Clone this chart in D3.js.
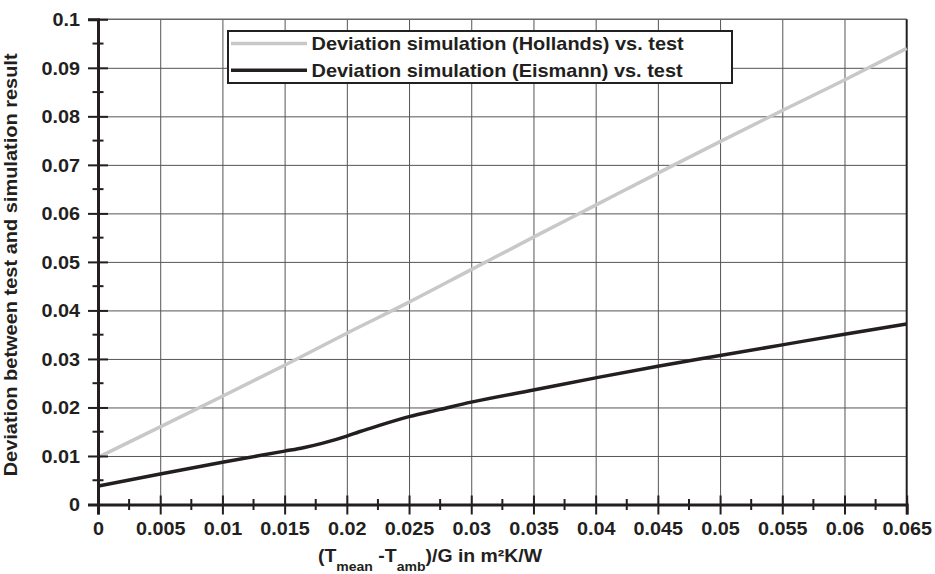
<!DOCTYPE html>
<html>
<head>
<meta charset="utf-8">
<script src="https://cdn.jsdelivr.net/npm/d3@7"></script>
<style>
  body { margin: 0; background: #fff; }
  text { font-family: "Liberation Sans", Arial, sans-serif; font-weight: bold; fill: #231f20; }
</style>
</head>
<body>
<svg id="chart" width="935" height="574"></svg>
<script>
// x positions and values
var hollandsX = [0, 0.005, 0.01, 0.015, 0.02, 0.025, 0.03, 0.035, 0.04, 0.045, 0.05, 0.055, 0.06, 0.065];
var hollandsY = [0.0097, 0.016, 0.0223, 0.0287, 0.0353, 0.0417, 0.0484, 0.0551, 0.0617, 0.0683, 0.0748, 0.0812, 0.0875, 0.094];

var eismannX = [0, 0.005, 0.01, 0.015, 0.0165, 0.018, 0.02, 0.021, 0.022, 0.025, 0.0275, 0.03, 0.035, 0.04, 0.045, 0.05, 0.055, 0.06, 0.065];
var eismannY = [0.0038, 0.0063, 0.0087, 0.011, 0.0117, 0.0126, 0.0141, 0.015, 0.0158, 0.0181, 0.0196, 0.0211, 0.0236, 0.0261, 0.0285, 0.0307, 0.0329, 0.0351, 0.0372];

var xTicks = [0, 0.005, 0.01, 0.015, 0.02, 0.025, 0.03, 0.035, 0.04, 0.045, 0.05, 0.055, 0.06, 0.065];
var xTickLabels = ["0", "0.005", "0.01", "0.015", "0.02", "0.025", "0.03", "0.035", "0.04", "0.045", "0.05", "0.055", "0.06", "0.065"];
var xMinorTicks = [0.0025, 0.0075, 0.0125, 0.0175, 0.0225, 0.0275, 0.0325, 0.0375, 0.0425, 0.0475, 0.0525, 0.0575, 0.0625];
var yTicks = [0, 0.01, 0.02, 0.03, 0.04, 0.05, 0.06, 0.07, 0.08, 0.09, 0.1];
var yTickLabels = ["0", "0.01", "0.02", "0.03", "0.04", "0.05", "0.06", "0.07", "0.08", "0.09", "0.1"];
var yMinorTicks = [0.005, 0.015, 0.025, 0.035, 0.045, 0.055, 0.065, 0.075, 0.085, 0.095];

var seriesNames = ["Deviation simulation (Hollands) vs. test", "Deviation simulation (Eismann) vs. test"];
var seriesColors = ["#c8c8c8", "#231f20"];

var svg = d3.select("#chart"),
    margin = {top: 19.3, right: 28.3, bottom: 69.5, left: 98},
    width = +svg.attr("width") - margin.left - margin.right,
    height = +svg.attr("height") - margin.top - margin.bottom,
    g = svg.append("g").attr("transform", "translate(" + margin.left + "," + margin.top + ")");

var stretch = 1.1;

var x = d3.scaleLinear().domain([0, 0.065]).range([0, width]);
var y = d3.scaleLinear().domain([0, 0.1]).range([height, 0]);

// grid
g.append("g")
    .attr("transform", "translate(0," + height + ")")
    .call(d3.axisBottom(x).tickValues(xTicks.slice(1, -1)).tickSize(-height).tickFormat(""))
    .call(function(s) {
      s.select(".domain").remove();
      s.selectAll(".tick line").attr("stroke", "#555").attr("stroke-width", 1);
    });

g.append("g")
    .call(d3.axisLeft(y).tickValues(yTicks.slice(1, -1)).tickSize(-width).tickFormat(""))
    .call(function(s) {
      s.select(".domain").remove();
      s.selectAll(".tick line").attr("stroke", "#555").attr("stroke-width", 1);
    });

// frame top and right
g.append("line").attr("x1", 0).attr("x2", width).attr("y1", 0).attr("y2", 0)
    .attr("stroke", "#666").attr("stroke-width", 1.5);
g.append("line").attr("x1", width).attr("x2", width).attr("y1", 0).attr("y2", height)
    .attr("stroke", "#231f20").attr("stroke-width", 2);

// lines
var line = d3.line()
    .curve(d3.curveMonotoneX)
    .x(function(d) { return x(d[0]); })
    .y(function(d) { return y(d[1]); });

var series = [d3.zip(hollandsX, hollandsY), d3.zip(eismannX, eismannY)];

g.selectAll(".series")
    .data(series)
  .enter().append("path")
    .attr("class", "series")
    .attr("fill", "none")
    .attr("stroke", function(d, i) { return seriesColors[i]; })
    .attr("stroke-width", 3.5)
    .attr("stroke-linejoin", "round")
    .attr("d", line);

// axes
g.append("g")
    .attr("transform", "translate(0," + height + ")")
    .call(customXAxis);

g.append("g")
    .call(customYAxis);

function customXAxis(s) {
  s.call(d3.axisBottom(x).tickValues(xTicks).tickSize(10).tickPadding(0)
      .tickFormat(function(d, i) { return xTickLabels[i]; }));
  s.select(".domain").attr("stroke", "#231f20").attr("stroke-width", 3);
  s.selectAll(".tick line").attr("y1", -9).attr("y2", 10).attr("stroke", "#231f20").attr("stroke-width", 2);
  s.selectAll(".tick text").attr("y", 30.5).attr("dy", null).attr("font-size", 18)
      .attr("fill", "#231f20").attr("transform", "scale(" + stretch + ",1)");
  var minor = s.append("g");
  minor.selectAll("line").data(xMinorTicks).enter().append("line")
      .attr("x1", x).attr("x2", x).attr("y1", -5.5).attr("y2", 5.5)
      .attr("stroke", "#231f20").attr("stroke-width", 2);
}

function customYAxis(s) {
  s.call(d3.axisLeft(y).tickValues(yTicks).tickSize(10).tickPadding(0)
      .tickFormat(function(d, i) { return yTickLabels[i]; }));
  s.select(".domain").attr("stroke", "#231f20").attr("stroke-width", 3);
  s.selectAll(".tick line").attr("x1", 10).attr("x2", -10).attr("stroke", "#231f20").attr("stroke-width", 2);
  s.selectAll(".tick text").attr("x", -18 / stretch).attr("dy", "0.36em").attr("font-size", 18)
      .attr("fill", "#231f20").attr("transform", "scale(" + stretch + ",1)");
  var minor = s.append("g");
  minor.selectAll("line").data(yMinorTicks).enter().append("line")
      .attr("y1", y).attr("y2", y).attr("x1", -5.5).attr("x2", 5.5)
      .attr("stroke", "#231f20").attr("stroke-width", 2);
}

// legend
var legend = svg.append("g").attr("transform", "translate(228,31)");
legend.append("rect").attr("width", 504).attr("height", 52)
    .attr("fill", "#fff").attr("stroke", "#231f20").attr("stroke-width", 2);
var item = legend.selectAll(".item")
    .data(seriesNames)
  .enter().append("g")
    .attr("class", "item")
    .attr("transform", function(d, i) { return "translate(0," + (12.5 + i * 26.8) + ")"; });
item.append("line").attr("x1", 3).attr("x2", 79).attr("y1", 0).attr("y2", 0)
    .attr("stroke", function(d, i) { return seriesColors[i]; }).attr("stroke-width", 3.5);
item.append("text")
    .attr("transform", "translate(83.5,6.3) scale(1.05,1)")
    .attr("font-size", 19)
    .text(function(d) { return d; });

// axis titles
svg.append("text")
    .attr("transform", "translate(17," + (margin.top + height / 2 + 3) + ") rotate(-90) scale(1.08,1)")
    .attr("text-anchor", "middle")
    .attr("font-size", 18.5)
    .text("Deviation between test and simulation result");

var xt = svg.append("text")
    .attr("transform", "translate(430,562) scale(1.08,1)")
    .attr("text-anchor", "middle")
    .attr("font-size", 18);
xt.append("tspan").text("(T");
xt.append("tspan").attr("font-size", 13).attr("dy", 9).text("mean");
xt.append("tspan").attr("dy", -9).text(" -T");
xt.append("tspan").attr("font-size", 13).attr("dy", 9).text("amb");
xt.append("tspan").attr("dy", -9).text(")/G in m\u00b2K/W");
</script>
</body>
</html>
